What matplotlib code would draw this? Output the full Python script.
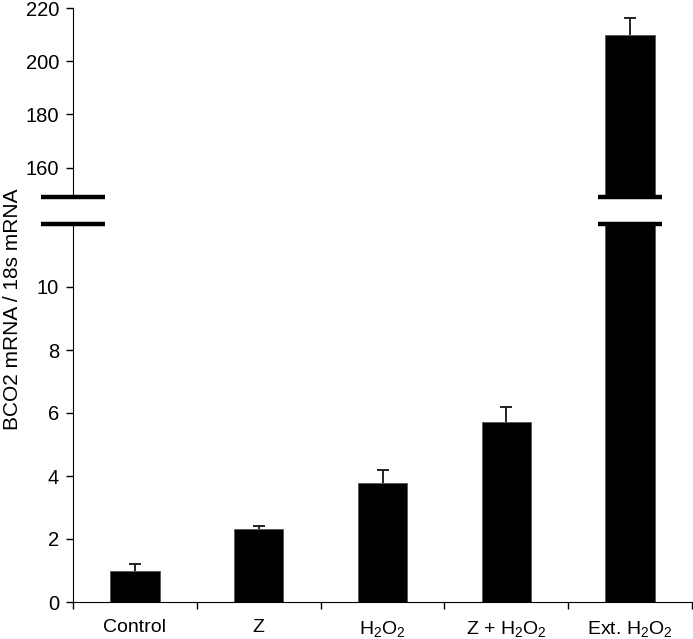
import numpy as np
import matplotlib
matplotlib.use("Agg")
import matplotlib.pyplot as plt
import matplotlib.transforms as mtransforms

plt.rcParams['font.family'] = ['Liberation Sans', 'DejaVu Sans']
plt.rcParams['mathtext.fontset'] = 'custom'
plt.rcParams['mathtext.rm'] = 'Liberation Sans'
plt.rcParams['mathtext.it'] = 'Liberation Sans'

# data
categories = ['Control', 'Z', 'H$_2$O$_2$', 'Z + H$_2$O$_2$', 'Ext. H$_2$O$_2$']
values = [1.0, 2.31, 3.77, 5.70, 209.8]
errors = [0.22, 0.11, 0.42, 0.50, 6.3]
low_ticks = [0, 2, 4, 6, 8, 10]
high_ticks = [160, 180, 200, 220]

x = np.arange(len(categories))

fig = plt.figure(figsize=(6.93, 6.39), dpi=100)
ax_lo = fig.add_axes([73/693, 37/639, 619/693, 378/639])
ax_hi = fig.add_axes([73/693, 442/639, 619/693, 189/639])

for ax in (ax_lo, ax_hi):
    ax.bar(x, values, width=0.4, color='black', edgecolor='#555555', linewidth=0.6)
    eb = ax.errorbar(x, values, yerr=[np.zeros(len(errors)), errors], fmt='none',
                     ecolor='#222222', elinewidth=1.4, capsize=4, capthick=1.4)
    # only the upper cap is shown
    eb[1][0].set_visible(False)
    ax.set_xlim(-0.5, 4.5)
    ax.spines['top'].set_visible(False)
    ax.spines['right'].set_visible(False)
    ax.tick_params(axis='y', direction='out', length=5, width=1, labelsize=14.5, pad=5)

ax_lo.set_ylim(0, 12)
ax_lo.set_yticks(low_ticks)
ax_lo.set_xticks(np.arange(-0.5, 5.0, 1.0))
ax_lo.set_xticklabels([])
ax_lo.tick_params(axis='x', which='major', direction='out', length=5, width=1)
ax_lo.set_xticks(x, minor=True)
ax_lo.set_xticklabels(categories, minor=True)
ax_lo.tick_params(axis='x', which='minor', length=0, labelsize=14, pad=12)

ax_hi.set_ylim(149, 220)
ax_hi.set_yticks(high_ticks)
ax_hi.spines['bottom'].set_visible(False)
ax_hi.set_xticks([])

# break marks
for ax, yv in ((ax_hi, 0), (ax_lo, 1)):
    tr = mtransforms.blended_transform_factory(ax.transData, ax.transAxes)
    for xc in (-0.5, 4):
        ax.plot([xc - 0.26, xc + 0.26], [yv, yv], color='black', linewidth=3.2,
                transform=tr, clip_on=False, solid_capstyle='butt')

fig.text(13/693, 1 - 309/639, 'BCO2 mRNA / 18s mRNA', rotation=90,
         ha='center', va='center', fontsize=15)

fig.savefig('out.png', dpi=100)
